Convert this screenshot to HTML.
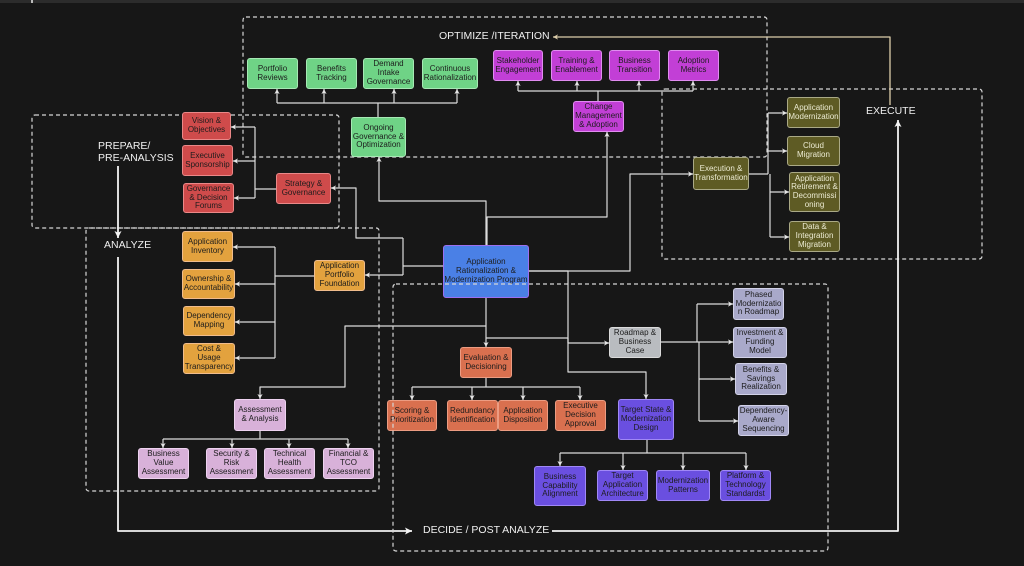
<!DOCTYPE html>
<html>
<head>
<meta charset="utf-8">
<style>
  html,body{margin:0;padding:0;}
  body{width:1024px;height:566px;background:#171717;position:relative;overflow:hidden;font-family:"Liberation Sans",Arial,sans-serif;}
  svg{position:absolute;left:0;top:0;}
  .n{position:absolute;box-sizing:border-box;display:flex;align-items:center;justify-content:center;text-align:center;font-size:8px;line-height:8.7px;color:#1c1c1c;border-radius:3px;border:1px solid;white-space:nowrap;}
  .g{background:#6fd386;border-color:#a6e9b4;}
  .m{background:#c23fd6;border-color:#e08cf0;}
  .r{background:#cf4b4b;border-color:#ea8888;}
  .o{background:#e3a23e;border-color:#f0bc8c;}
  .b{background:#4a80e6;border-color:#9c70f0;}
  .v{background:#5e5b24;border-color:#aaa986;color:#ecebd2;}
  .c{background:#d9704f;border-color:#ec9c82;}
  .gy{background:#b9bcc0;border-color:#dadada;}
  .l{background:#a9a9ca;border-color:#d2d2e8;}
  .p{background:#6a4fe0;border-color:#a088f6;}
  .k{background:#d8b1d9;border-color:#eed2f0;}
  .lab{position:absolute;color:#f0f0f0;font-size:10.5px;line-height:11.5px;white-space:nowrap;}
</style>
</head>
<body>
<svg width="1024" height="566" viewBox="0 0 1024 566">
  <defs>
    <marker id="a" markerUnits="userSpaceOnUse" markerWidth="6" markerHeight="6" refX="5" refY="3" orient="auto">
      <path d="M0,0.4 L5,3 L0,5.6 L1.3,3 z" fill="#e4e4e4"/>
    </marker>
    <marker id="aw" markerUnits="userSpaceOnUse" markerWidth="8" markerHeight="8" refX="7" refY="4" orient="auto">
      <path d="M0,0.5 L7,4 L0,7.5 L1.6,4 z" fill="#f4f4f4"/>
    </marker>
    <marker id="at" markerUnits="userSpaceOnUse" markerWidth="6" markerHeight="6" refX="5" refY="3" orient="auto">
      <path d="M0,0.4 L5,3 L0,5.6 L1.3,3 z" fill="#dccdaa"/>
    </marker>
  </defs>
  <rect x="0" y="0" width="1024" height="3" fill="#2c2c2c"/>
  <rect x="31" y="0" width="2" height="3" fill="#bbb"/>

  <!-- dashed regions (behind) -->
  <g fill="none" stroke="#d6d6d6" stroke-width="1.2" stroke-dasharray="4,3">
    <rect x="243" y="17" width="524" height="140" rx="3"/>
    <rect x="32" y="115" width="307" height="113" rx="3"/>
    <rect x="86" y="228" width="293" height="263" rx="3"/>
    <rect x="662" y="89" width="320" height="170" rx="3"/>
  </g>

  <!-- connectors -->
  <g fill="none" stroke="#dcdcdc" stroke-width="1.2" stroke-linejoin="round">
    <!-- Ongoing -> children -->
    <path d="M378,117 V103"/>
    <path d="M277,103 H457"/>
    <path d="M277,103 V89" marker-end="url(#a)"/>
    <path d="M324,103 V89" marker-end="url(#a)"/>
    <path d="M394,103 V89" marker-end="url(#a)"/>
    <path d="M457,103 V89" marker-end="url(#a)"/>
    <!-- Change -> children -->
    <path d="M598,101 V91"/>
    <path d="M518,91 H693"/>
    <path d="M518,91 V81" marker-end="url(#a)"/>
    <path d="M577,91 V81" marker-end="url(#a)"/>
    <path d="M639,91 V81" marker-end="url(#a)"/>
    <path d="M693,91 V81" marker-end="url(#a)"/>
    <!-- Program top -> Ongoing / Change -->
    <path d="M486,245 V201 H379 V157" marker-end="url(#a)"/>
    <path d="M487,245 V217 H607 V132" marker-end="url(#a)"/>
    <!-- Program right -> Execution -->
    <path d="M529,271 H630 V174 H693" marker-end="url(#a)"/>
    <!-- Execution -> children -->
    <path d="M749,174 H768"/>
    <path d="M768,113 V174 M770,174 V237"/>
    <path d="M768,113 H787" marker-end="url(#a)"/>
    <path d="M768,151 H787" marker-end="url(#a)"/>
    <path d="M770,192 H789" marker-end="url(#a)"/>
    <path d="M770,237 H789" marker-end="url(#a)"/>
    <!-- Program left -> Strategy / APF -->
    <path d="M443,266 H403"/>
    <path d="M403,238 V275"/>
    <path d="M403,238 H356 V188 H331" marker-end="url(#a)"/>
    <path d="M403,275 H365" marker-end="url(#a)"/>
    <!-- Strategy -> red -->
    <path d="M276,189 H255"/>
    <path d="M255,127 V198"/>
    <path d="M255,127 H231" marker-end="url(#a)"/>
    <path d="M255,161 H233" marker-end="url(#a)"/>
    <path d="M255,198 H234" marker-end="url(#a)"/>
    <!-- APF -> orange -->
    <path d="M314,276 H275"/>
    <path d="M275,247 V358"/>
    <path d="M275,247 H233" marker-end="url(#a)"/>
    <path d="M275,284 H235" marker-end="url(#a)"/>
    <path d="M275,322 H235" marker-end="url(#a)"/>
    <path d="M275,358 H235" marker-end="url(#a)"/>
    <!-- Program bottom -> Evaluation -->
    <path d="M486,298 V347" marker-end="url(#a)"/>
    <!-- Program -> Assessment -->
    <path d="M486,326 H345 V387 H260 V399" marker-end="url(#a)"/>
    <!-- Program -> Roadmap / Target -->
    <path d="M529,271 H568 V372 H646 V399" marker-end="url(#a)"/>
    <path d="M486,338 H568 V343 H609" marker-end="url(#a)"/>
    <!-- Evaluation -> children -->
    <path d="M486,378 V387"/>
    <path d="M412,387 H580"/>
    <path d="M412,387 V400" marker-end="url(#a)"/>
    <path d="M472,387 V400" marker-end="url(#a)"/>
    <path d="M523,387 V400" marker-end="url(#a)"/>
    <path d="M580,387 V400" marker-end="url(#a)"/>
    <!-- Roadmap -> lavender -->
    <path d="M661,342 H697"/>
    <path d="M697,304 V342 M699,342 V421"/>
    <path d="M697,304 H733" marker-end="url(#a)"/>
    <path d="M697,342 H733" marker-end="url(#a)"/>
    <path d="M699,379 H735" marker-end="url(#a)"/>
    <path d="M699,421 H738" marker-end="url(#a)"/>
    <!-- Target -> purple -->
    <path d="M647,440 V453"/>
    <path d="M560,453 H746"/>
    <path d="M560,453 V466" marker-end="url(#a)"/>
    <path d="M623,453 V470" marker-end="url(#a)"/>
    <path d="M683,453 V470" marker-end="url(#a)"/>
    <path d="M746,453 V470" marker-end="url(#a)"/>
    <!-- Assessment -> pink -->
    <path d="M260,431 V439"/>
    <path d="M163,439 H348"/>
    <path d="M163,439 V448" marker-end="url(#a)"/>
    <path d="M232,439 V448" marker-end="url(#a)"/>
    <path d="M289,439 V448" marker-end="url(#a)"/>
    <path d="M348,439 V448" marker-end="url(#a)"/>
  </g>

  <!-- phase flow lines -->
  <g fill="none" stroke="#f2f2f2" stroke-width="1.8" stroke-linejoin="round">
    <path d="M118,166 V238" marker-end="url(#aw)"/>
    <path d="M118,257 V531 H412" marker-end="url(#aw)"/>
    <path d="M552,531 H898 V120" marker-end="url(#aw)"/>
  </g>
  <path d="M890,105 V37 H553" fill="none" stroke="#dccdaa" stroke-width="1.3" stroke-linejoin="round" marker-end="url(#at)"/>
</svg>

<!-- labels -->
<div class="lab" style="left:439px;top:31px;">OPTIMIZE /ITERATION</div>
<div class="lab" style="left:98px;top:141px;">PREPARE/<br>PRE-ANALYSIS</div>
<div class="lab" style="left:104px;top:240px;">ANALYZE</div>
<div class="lab" style="left:866px;top:106px;">EXECUTE</div>
<div class="lab" style="left:423px;top:525px;">DECIDE / POST ANALYZE</div>

<!-- green -->
<div class="n g" style="left:247px;top:58px;width:51px;height:31px;">Portfolio<br>Reviews</div>
<div class="n g" style="left:306px;top:58px;width:51px;height:31px;">Benefits<br>Tracking</div>
<div class="n g" style="left:363px;top:58px;width:51px;height:31px;">Demand<br>Intake<br>Governance</div>
<div class="n g" style="left:422px;top:58px;width:56px;height:31px;">Continuous<br>Rationalization</div>
<div class="n g" style="left:351px;top:117px;width:55px;height:40px;">Ongoing<br>Governance &amp;<br>Optimization</div>

<!-- magenta -->
<div class="n m" style="left:493px;top:50px;width:50px;height:31px;">Stakeholder<br>Engagement</div>
<div class="n m" style="left:551px;top:50px;width:51px;height:31px;">Training &amp;<br>Enablement</div>
<div class="n m" style="left:609px;top:50px;width:51px;height:31px;">Business<br>Transition</div>
<div class="n m" style="left:668px;top:50px;width:51px;height:31px;">Adoption<br>Metrics</div>
<div class="n m" style="left:573px;top:101px;width:51px;height:31px;">Change<br>Management<br>&amp; Adoption</div>

<!-- red -->
<div class="n r" style="left:182px;top:112px;width:49px;height:28px;">Vision &amp;<br>Objectives</div>
<div class="n r" style="left:182px;top:145px;width:51px;height:31px;">Executive<br>Sponsorship</div>
<div class="n r" style="left:183px;top:183px;width:51px;height:30px;">Governance<br>&amp; Decision<br>Forums</div>
<div class="n r" style="left:276px;top:173px;width:55px;height:31px;">Strategy &amp;<br>Governance</div>

<!-- orange -->
<div class="n o" style="left:182px;top:231px;width:51px;height:31px;">Application<br>Inventory</div>
<div class="n o" style="left:182px;top:269px;width:53px;height:30px;">Ownership &amp;<br>Accountability</div>
<div class="n o" style="left:183px;top:306px;width:52px;height:30px;">Dependency<br>Mapping</div>
<div class="n o" style="left:183px;top:343px;width:52px;height:31px;">Cost &amp;<br>Usage<br>Transparency</div>
<div class="n o" style="left:314px;top:260px;width:51px;height:31px;">Application<br>Portfolio<br>Foundation</div>

<!-- program -->
<div class="n b" style="left:443px;top:245px;width:86px;height:53px;">Application<br>Rationalization &amp;<br>Modernization Program</div>

<!-- olive -->
<div class="n v" style="left:693px;top:157px;width:56px;height:33px;">Execution &amp;<br>Transformation</div>
<div class="n v" style="left:787px;top:97px;width:53px;height:31px;">Application<br>Modernization</div>
<div class="n v" style="left:787px;top:136px;width:53px;height:30px;">Cloud<br>Migration</div>
<div class="n v" style="left:789px;top:172px;width:51px;height:40px;">Application<br>Retirement &amp;<br>Decommissi<br>oning</div>
<div class="n v" style="left:789px;top:221px;width:51px;height:31px;">Data &amp;<br>Integration<br>Migration</div>

<!-- coral -->
<div class="n c" style="left:460px;top:347px;width:52px;height:31px;">Evaluation &amp;<br>Decisioning</div>
<div class="n c" style="left:387px;top:400px;width:50px;height:31px;">Scoring &amp;<br>Prioritization</div>
<div class="n c" style="left:447px;top:400px;width:51px;height:31px;">Redundancy<br>Identification</div>
<div class="n c" style="left:498px;top:400px;width:50px;height:31px;">Application<br>Disposition</div>
<div class="n c" style="left:555px;top:400px;width:51px;height:31px;">Executive<br>Decision<br>Approval</div>

<!-- gray -->
<div class="n gy" style="left:609px;top:327px;width:52px;height:31px;">Roadmap &amp;<br>Business<br>Case</div>

<!-- lavender -->
<div class="n l" style="left:733px;top:288px;width:51px;height:32px;">Phased<br>Modernizatio<br>n Roadmap</div>
<div class="n l" style="left:733px;top:327px;width:54px;height:31px;">Investment &amp;<br>Funding<br>Model</div>
<div class="n l" style="left:735px;top:363px;width:52px;height:32px;">Benefits &amp;<br>Savings<br>Realization</div>
<div class="n l" style="left:738px;top:405px;width:51px;height:31px;">Dependency-<br>Aware<br>Sequencing</div>

<!-- purple -->
<div class="n p" style="left:618px;top:399px;width:56px;height:41px;">Target State &amp;<br>Modernization<br>Design</div>
<div class="n p" style="left:534px;top:466px;width:52px;height:40px;">Business<br>Capability<br>Alignment</div>
<div class="n p" style="left:597px;top:470px;width:51px;height:31px;">Target<br>Application<br>Architecture</div>
<div class="n p" style="left:656px;top:470px;width:54px;height:31px;">Modernization<br>Patterns</div>
<div class="n p" style="left:720px;top:470px;width:51px;height:31px;">Platform &amp;<br>Technology<br>Standardst</div>

<!-- pink -->
<div class="n k" style="left:234px;top:399px;width:52px;height:32px;">Assessment<br>&amp; Analysis</div>
<div class="n k" style="left:138px;top:448px;width:51px;height:31px;">Business<br>Value<br>Assessment</div>
<div class="n k" style="left:206px;top:448px;width:51px;height:31px;">Security &amp;<br>Risk<br>Assessment</div>
<div class="n k" style="left:264px;top:448px;width:51px;height:31px;">Technical<br>Health<br>Assessment</div>
<div class="n k" style="left:323px;top:448px;width:51px;height:31px;">Financial &amp;<br>TCO<br>Assessment</div>

<!-- decide dashed region drawn on top (crosses program & scoring boxes in reference) -->
<svg width="1024" height="566" viewBox="0 0 1024 566" style="pointer-events:none;">
  <rect x="393" y="284" width="435" height="267" rx="3" fill="none" stroke="#d6d6d6" stroke-width="1.2" stroke-dasharray="4,3"/>
</svg>
</body>
</html>
